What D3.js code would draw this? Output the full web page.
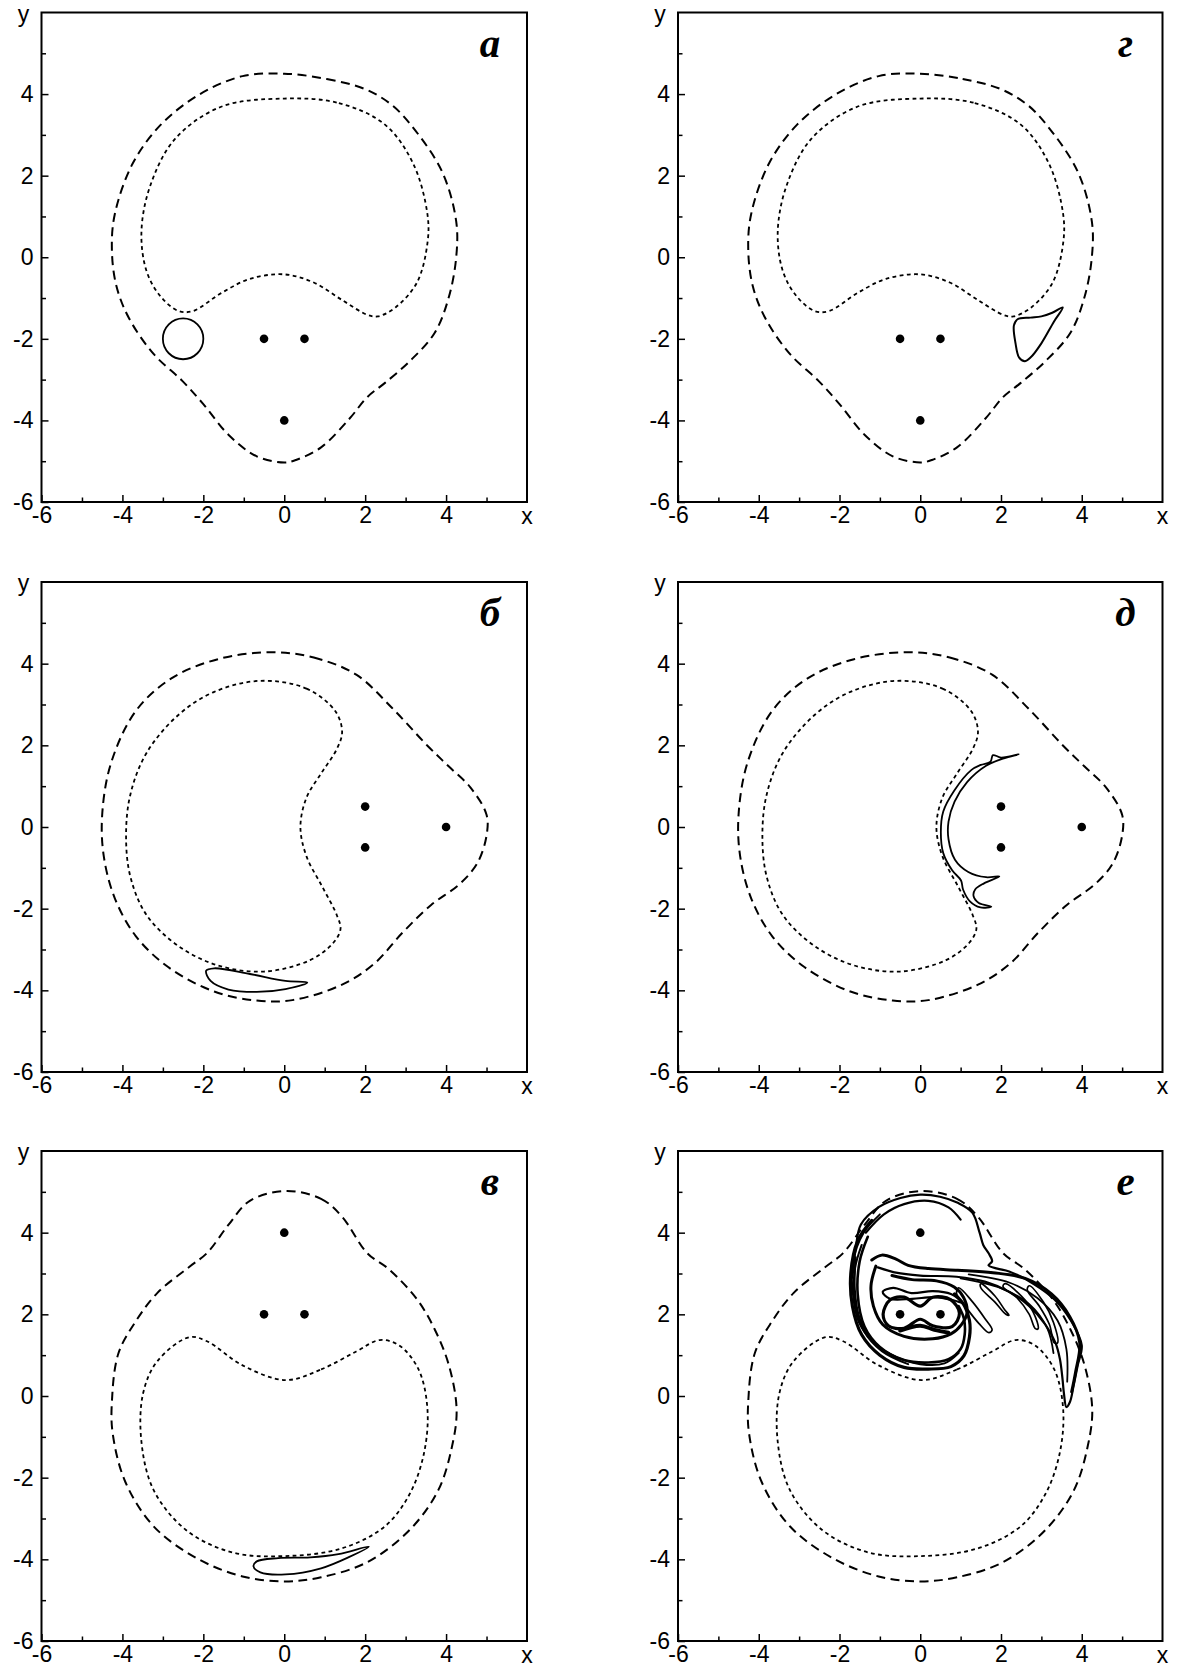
<!DOCTYPE html>
<html>
<head>
<meta charset="utf-8">
<script src="https://cdn.jsdelivr.net/npm/d3@7"></script>
<style>
  body { margin: 0; background: #fff; }
  svg { display: block; }
</style>
</head>
<body>
<svg id="fig" width="1177" height="1677"></svg>
<script>
// ---------- axis ticks ----------
const majorTicks = [-6, -4, -2, 0, 2, 4];
const minorTicks = [-5, -3, -1, 1, 3, 5];
const domainXY = [-6, 6];

// ---------- point vortices ----------
const vorticesA = [[-0.5, -2], [0.5, -2], [0, -4]];
const vorticesB = [[2, 0.5], [2, -0.5], [4, 0]];
const vorticesC = [[0, 4], [-0.5, 2], [0.5, 2]];

// ---------- boundary contours (outer: dashed, inner: dotted) ----------
const outerA = [[0,4.5],[1.05,4.37],[2.0,4.12],[2.65,3.74],[3.15,3.22],[3.9,2.1],[4.25,0.88],[4.25,0],
  [4.07,-0.97],[3.72,-1.85],[3.1,-2.55],[2.49,-3.08],[2.05,-3.43],[1.61,-3.96],[0.91,-4.66],
  [0.29,-4.97],[0,-5.03],[-0.68,-4.88],[-1.38,-4.35],[-2.0,-3.6],[-2.52,-3.03],[-3.23,-2.37],
  [-3.84,-1.49],[-4.15,-0.7],[-4.26,0.18],[-4.19,1.05],[-3.75,2.29],[-3.05,3.25],[-2.08,4.0],[-1.03,4.44]];
const innerA = [[0,3.89],[1.35,3.78],[2.49,3.25],[3.19,2.29],[3.54,1.05],[3.54,0.35],[3.28,-0.62],
  [2.75,-1.23],[2.31,-1.45],[2.05,-1.41],[1.43,-1.05],[0.73,-0.62],[0,-0.42],[-0.85,-0.53],[-1.56,-0.88],
  [-2.26,-1.32],[-2.61,-1.32],[-3.05,-0.97],[-3.4,-0.35],[-3.53,0.62],[-3.31,1.76],[-2.7,2.9],[-1.56,3.69]];

const outerB = [[-0.33,4.28],[0.73,4.15],[1.78,3.73],[2.66,2.92],[3.54,1.99],[4.07,1.48],[4.6,0.97],
  [5.0,0.3],[5.0,-0.21],[4.77,-0.89],[4.33,-1.4],[3.63,-1.91],[2.93,-2.58],[2.22,-3.35],[1.43,-3.86],
  [0.2,-4.24],[-0.68,-4.25],[-1.73,-4.03],[-2.87,-3.43],[-3.67,-2.67],[-4.19,-1.74],[-4.46,-0.72],
  [-4.5,0.3],[-4.28,1.57],[-3.67,2.84],[-2.79,3.64],[-1.64,4.11]];
const innerB = [[-0.59,3.58],[0.55,3.39],[1.26,2.84],[1.43,2.33],[1.3,1.91],[0.91,1.31],[0.55,0.72],
  [0.4,0],[0.55,-0.72],[0.95,-1.48],[1.3,-2.16],[1.39,-2.5],[1.21,-2.84],[0.64,-3.26],[-0.5,-3.54],
  [-1.64,-3.39],[-2.61,-2.92],[-3.4,-2.16],[-3.8,-1.23],[-3.91,-0.21],[-3.8,0.81],[-3.4,1.82],
  [-2.61,2.75],[-1.73,3.31]];

const outerC = [[0.03,5.02],[0.91,4.83],[1.43,4.39],[2.05,3.5],[2.58,3.11],[3.28,2.37],[3.72,1.63],
  [4.07,0.75],[4.26,-0.33],[4.15,-1.22],[3.81,-2.3],[3.1,-3.28],[2.05,-4.07],[0.91,-4.44],[0,-4.54],
  [-1.03,-4.42],[-2.17,-3.97],[-3.23,-3.19],[-3.93,-2.1],[-4.24,-0.92],[-4.26,-0.14],[-4.1,1.04],
  [-3.67,1.83],[-3.14,2.52],[-2.35,3.16],[-1.91,3.5],[-1.38,4.19],[-0.85,4.78]];
const innerC = [[0.03,0.39],[0.91,0.65],[1.78,1.09],[2.36,1.37],[2.84,1.24],[3.32,0.65],[3.54,-0.33],
  [3.45,-1.42],[3.1,-2.4],[2.49,-3.19],[1.43,-3.73],[0.03,-3.92],[-1.29,-3.83],[-2.43,-3.28],
  [-3.23,-2.3],[-3.53,-1.12],[-3.49,0.06],[-3.14,0.85],[-2.35,1.44],[-1.91,1.34],[-1.03,0.75]];

// ---------- passive patches (solid) ----------
const patchA = [-2.5, -2, 0.5];   // centre x, centre y, radius
const patchG = [[3.53,-1.23],[3.31,-1.58],[3.0,-2.11],[2.73,-2.46],[2.59,-2.55],[2.45,-2.46],
  [2.36,-2.11],[2.32,-1.67],[2.41,-1.52],[2.73,-1.48],[3.0,-1.45],[3.27,-1.36]];
const patchB = [[-1.93,-3.52],[-1.73,-3.46],[-0.85,-3.6],[0.03,-3.77],[0.57,-3.81],[0.03,-3.97],
  [-0.68,-4.04],[-1.38,-3.98],[-1.82,-3.77]];
const patchD = [[2.44,1.78],[2.0,1.7],[1.8,1.76],[1.74,1.6],[1.5,1.52],[1.27,1.4],[0.84,0.89],
  [0.57,0.38],[0.51,-0.13],[0.57,-0.64],[0.79,-1.06],[1.01,-1.31],[1.06,-1.53],[1.23,-1.82],
  [1.49,-1.97],[1.76,-1.95],[1.45,-1.86],[1.32,-1.69],[1.36,-1.53],[1.58,-1.38],[1.96,-1.21],
  [1.63,-1.23],[1.19,-1.1],[0.86,-0.8],[0.7,-0.3],[0.7,0.13],[0.85,0.62],[1.16,1.1],
  [1.63,1.5],[2.07,1.68]];
const patchV = [[2.09,-3.69],[1.61,-3.94],[0.91,-4.22],[0.03,-4.37],[-0.59,-4.32],[-0.76,-4.17],
  [-0.68,-4.05],[-0.15,-3.97],[0.64,-3.95],[1.34,-3.87]];

// ---------- stretched patch, panel е ----------
const eOuterFilament = [[-1.68,2.9],[-1.6,3.6],[-1.47,4.2],[-1.02,4.63],[-0.49,4.85],[0,4.93],
  [0.49,4.88],[0.93,4.73],[1.29,4.49],[1.47,4.0],[1.56,3.7],[1.69,3.5],[1.78,3.3],[1.69,3.2],
  [1.91,3.12],[2.2,3.05],[2.8,2.75],[3.33,2.36],[3.73,1.85],[4.0,1.24],[3.9,0.75],[3.8,0.26],
  [3.71,-0.14],[3.62,-0.27],[3.56,0.05],[3.52,0.45],[3.46,0.9],[3.35,1.3],[3.1,1.75],[2.7,2.2],
  [2.2,2.55],[1.6,2.8],[0.9,2.92],[0,2.95],[-0.6,3.02],[-1.05,3.15]];
const eBandTop = [[-1.2,3.33],[-0.95,3.45],[-0.6,3.35],[-0.3,3.2],[0.2,3.12],[0.93,3.08],[1.8,3.02],
  [2.6,2.88],[3.25,2.5],[3.7,1.95],[3.95,1.3],[3.85,0.6],[3.75,0.1]];
const eTail2 = [[1.2,2.98],[2.2,2.78],[2.9,2.4],[3.4,1.85],[3.62,1.15],[3.64,0.35]];
const eTail3 = [[1.0,2.88],[2.0,2.64],[2.7,2.25],[3.15,1.65],[3.3,1.05]];
const eTopInner = [[-1.35,4.0],[-0.9,4.45],[-0.4,4.7],[0.2,4.78],[0.7,4.62],[1.0,4.32]];
const eLoop1 = [[-1.2,4.3],[-1.55,3.8],[-1.72,3.0],[-1.68,2.2],[-1.45,1.5],[-1.0,1.0],[-0.4,0.7],
  [0.2,0.66],[0.76,0.72],[1.08,0.98],[1.22,1.45],[1.22,1.85],[1.1,2.2],[0.85,2.5]];
const eLoop2 = [[-1.3,3.9],[-1.5,3.3],[-1.55,2.5],[-1.38,1.7],[-1.0,1.2],[-0.4,0.88],[0.2,0.82],
  [0.7,0.9],[1.0,1.15],[1.1,1.5],[1.08,1.9],[0.95,2.2]];
const eLoop3 = [[-1.6,3.4],[-1.62,2.6],[-1.5,1.9],[-1.2,1.35],[-0.7,1.0],[0,0.78],[0.6,0.8],[0.95,1.05]];
const eLoop4 = [[-1.45,3.7],[-1.62,3.1],[-1.62,2.3],[-1.4,1.6],[-0.95,1.1],[-0.3,0.78]];
const eLoop5 = [[-1.0,4.45],[-1.4,4.0],[-1.66,3.3],[-1.67,2.5],[-1.52,1.8],[-1.15,1.3],[-0.6,0.95]];
const eInnerLoop = [[-1.1,3.18],[-1.22,2.7],[-1.16,2.2],[-0.93,1.75],[-0.4,1.46],[0.31,1.4],
  [0.76,1.52],[1.02,1.75],[1.16,2.05],[1.07,2.42],[0.84,2.67],[0.4,2.82],[-0.2,2.85],[-0.7,2.95]];
const eUnder = [[-0.5,1.6],[0,1.72],[0.35,1.62],[0.7,1.55]];
const eLoopAbove = [[-0.93,2.55],[-0.67,2.65],[-0.22,2.52],[0.31,2.57],[0.76,2.5],[1.05,2.28],
  [0.8,2.35],[0.35,2.42],[-0.2,2.38],[-0.75,2.38]];
const eFigure8 = [[-0.92,2.0],[-0.75,2.35],[-0.4,2.42],[0,2.2],[0.31,2.42],[0.75,2.36],[0.97,2.03],
  [0.79,1.7],[0.31,1.72],[0,1.88],[-0.4,1.66],[-0.79,1.72]];
const eFinger1 = [[0.95,2.65],[1.3,2.3],[1.6,1.9],[1.78,1.62],[1.7,1.55],[1.45,1.78],[1.15,2.15],[0.9,2.5]];
const eFinger2 = [[1.5,2.75],[1.85,2.45],[2.1,2.1],[2.2,1.98],[2.12,2.0],[1.85,2.3],[1.5,2.65]];
const eFinger3 = [[2.1,2.75],[2.5,2.45],[2.8,2.05],[2.92,1.65],[2.85,1.65],[2.7,2.0],[2.4,2.4],[2.05,2.68]];
const eFinger4 = [[2.7,2.7],[3.05,2.3],[3.3,1.8],[3.4,1.3],[3.32,1.3],[3.2,1.75],[2.95,2.2],[2.65,2.6]];

// ---------- drawing ----------
const svg = d3.select('#fig');
const tickFont = '"Liberation Sans", Arial, Helvetica, sans-serif';
const letterFont = '"Liberation Serif", "Times New Roman", serif';

function panel(frame, letter) {
  const x = d3.scaleLinear().domain(domainXY).range([frame.left, frame.right]);
  const y = d3.scaleLinear().domain(domainXY).range([frame.bottom, frame.top]);
  const g = svg.append('g');
  const closed = d3.line().x(d => x(d[0])).y(d => y(d[1])).curve(d3.curveCatmullRomClosed.alpha(0.5));
  const open = d3.line().x(d => x(d[0])).y(d => y(d[1])).curve(d3.curveCatmullRom.alpha(0.5));

  // minor ticks
  g.append('g').attr('transform', `translate(0,${frame.bottom})`)
    .call(d3.axisBottom(x).tickValues(minorTicks).tickSize(-4.5).tickFormat(''));
  g.append('g').attr('transform', `translate(${frame.left},0)`)
    .call(d3.axisLeft(y).tickValues(minorTicks).tickSize(-4.5).tickFormat(''));
  // major ticks with labels
  g.append('g').attr('transform', `translate(0,${frame.bottom})`)
    .call(d3.axisBottom(x).tickValues(majorTicks).tickSize(-7).tickPadding(5).tickFormat(d => String(d)));
  g.append('g').attr('transform', `translate(${frame.left},0)`)
    .call(d3.axisLeft(y).tickValues(majorTicks).tickSize(-7).tickPadding(8).tickFormat(d => String(d)));
  g.selectAll('.domain').remove();
  g.selectAll('.tick line').attr('stroke', '#000').attr('stroke-width', 1.5);
  g.selectAll('.tick text').attr('font-family', tickFont).attr('font-size', 23).attr('fill', '#000');

  // frame
  g.append('rect').attr('x', frame.left).attr('y', frame.top)
    .attr('width', frame.right - frame.left).attr('height', frame.bottom - frame.top)
    .attr('fill', 'none').attr('stroke', '#000').attr('stroke-width', 2);

  // axis names
  g.append('text').attr('x', frame.left - 18).attr('y', frame.top + 9).attr('text-anchor', 'middle')
    .attr('font-family', tickFont).attr('font-size', 23).text('y');
  g.append('text').attr('x', frame.right).attr('y', frame.bottom + 22).attr('text-anchor', 'middle')
    .attr('font-family', tickFont).attr('font-size', 23).text('x');

  // panel letter
  g.append('text').attr('x', frame.right - 37).attr('y', frame.top + 44).attr('text-anchor', 'middle')
    .attr('font-family', letterFont).attr('font-weight', 'bold').attr('font-style', 'italic')
    .attr('font-size', 41).text(letter);

  return {g, x, y, closed, open};
}

function contours(p, outer, inner) {
  p.g.append('path').attr('d', p.closed(outer)).attr('fill', 'none').attr('stroke', '#000')
    .attr('stroke-width', 2).attr('stroke-dasharray', '9,5.5');
  p.g.append('path').attr('d', p.closed(inner)).attr('fill', 'none').attr('stroke', '#000')
    .attr('stroke-width', 1.8).attr('stroke-dasharray', '3.8,3.4');
}
function vortices(p, pts) {
  p.g.selectAll(null).data(pts).enter().append('circle')
    .attr('cx', d => p.x(d[0])).attr('cy', d => p.y(d[1])).attr('r', 4.3).attr('fill', '#000');
}
function solidClosed(p, pts, w) {
  p.g.append('path').attr('d', p.closed(pts)).attr('fill', 'none').attr('stroke', '#000')
    .attr('stroke-width', w || 1.7).attr('stroke-linejoin', 'round');
}
function solidOpen(p, pts, w) {
  p.g.append('path').attr('d', p.open(pts)).attr('fill', 'none').attr('stroke', '#000')
    .attr('stroke-width', w || 1.7).attr('stroke-linecap', 'round').attr('stroke-linejoin', 'round');
}

const colL = {left: 41.5, right: 527};
const colR = {left: 678, right: 1162.5};
const row1 = {top: 12.5, bottom: 502};
const row2 = {top: 582, bottom: 1072};
const row3 = {top: 1151, bottom: 1641};

// а
const pA = panel({...colL, ...row1}, 'а');
contours(pA, outerA, innerA);
vortices(pA, vorticesA);
pA.g.append('ellipse').attr('cx', pA.x(patchA[0])).attr('cy', pA.y(patchA[1]))
  .attr('rx', pA.x(patchA[2]) - pA.x(0)).attr('ry', pA.y(0) - pA.y(patchA[2]))
  .attr('fill', 'none').attr('stroke', '#000').attr('stroke-width', 1.8);

// г
const pG = panel({...colR, ...row1}, 'г');
contours(pG, outerA, innerA);
vortices(pG, vorticesA);
solidClosed(pG, patchG, 2);

// б
const pB = panel({...colL, ...row2}, 'б');
contours(pB, outerB, innerB);
vortices(pB, vorticesB);
solidClosed(pB, patchB, 1.8);

// д
const pD = panel({...colR, ...row2}, 'д');
contours(pD, outerB, innerB);
vortices(pD, vorticesB);
solidClosed(pD, patchD, 1.8);

// в
const pV = panel({...colL, ...row3}, 'в');
contours(pV, outerC, innerC);
vortices(pV, vorticesC);
solidClosed(pV, patchV, 1.8);

// е
const pE = panel({...colR, ...row3}, 'е');
contours(pE, outerC, innerC);
solidOpen(pE, eOuterFilament, 2.2);
solidOpen(pE, eBandTop, 3);
solidOpen(pE, eTail2, 1.8);
solidOpen(pE, eTail3, 1.8);
solidOpen(pE, eTopInner, 2.2);
solidOpen(pE, eLoop1, 3.2);
solidOpen(pE, eLoop2, 2.6);
solidOpen(pE, eLoop3, 2);
solidOpen(pE, eLoop4, 2);
solidOpen(pE, eLoop5, 1.8);
solidOpen(pE, eInnerLoop, 3);
solidOpen(pE, eUnder, 3.8);
solidClosed(pE, eLoopAbove, 2.2);
solidClosed(pE, eFigure8, 3.2);
[eFinger1, eFinger2, eFinger3, eFinger4].forEach(f => solidClosed(pE, f, 1.7));
vortices(pE, vorticesC);
</script>
</body>
</html>
